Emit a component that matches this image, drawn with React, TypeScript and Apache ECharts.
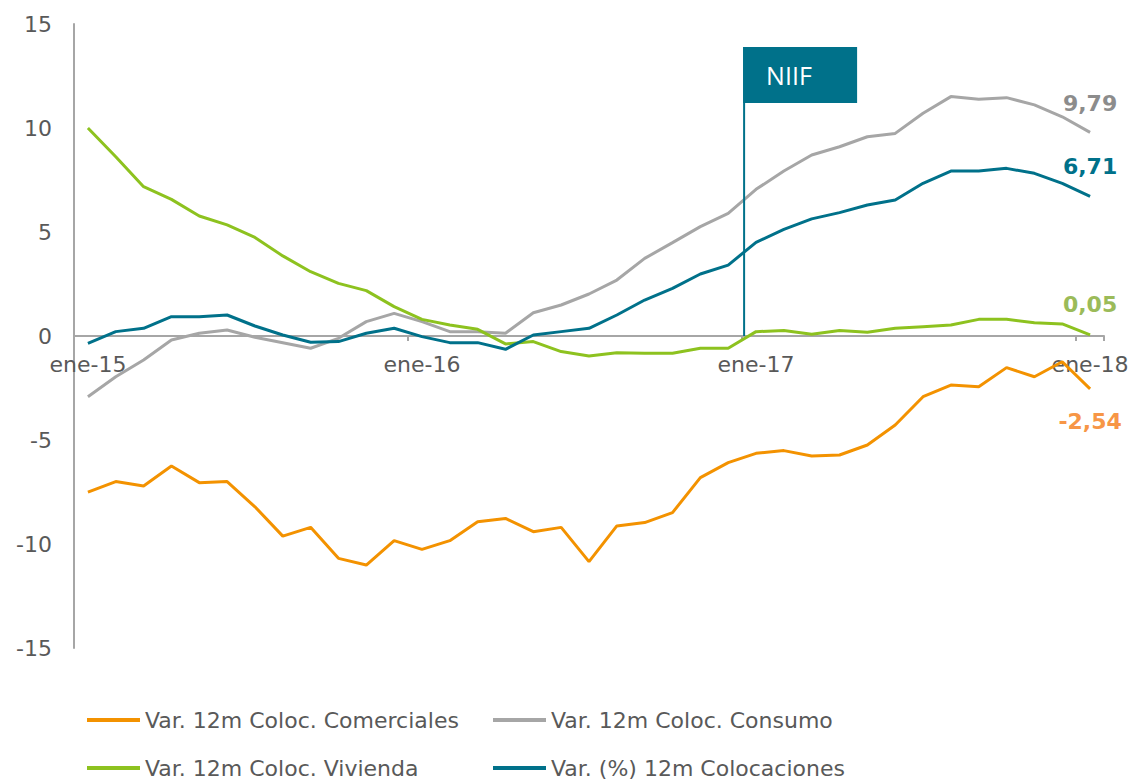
import React, { useEffect, useRef } from "react";
import * as echarts from "echarts";

const months = [
  "ene-15", "feb-15", "mar-15", "abr-15", "may-15", "jun-15", "jul-15", "ago-15", "sep-15", "oct-15", "nov-15", "dic-15",
  "ene-16", "feb-16", "mar-16", "abr-16", "may-16", "jun-16", "jul-16", "ago-16", "sep-16", "oct-16", "nov-16", "dic-16",
  "ene-17", "feb-17", "mar-17", "abr-17", "may-17", "jun-17", "jul-17", "ago-17", "sep-17", "oct-17", "nov-17", "dic-17",
  "ene-18",
];

const comerciales = [
  -7.51, -7.0, -7.21, -6.25, -7.05, -7.0, -8.21, -9.62, -9.2, -10.69, -11.01, -9.84,
  -10.26, -9.84, -8.93, -8.77, -9.41, -9.2, -10.85, -9.13, -8.97, -8.49, -6.81, -6.09,
  -5.64, -5.51, -5.77, -5.72, -5.24, -4.28, -2.92, -2.36, -2.44, -1.52, -1.96, -1.24,
  -2.54,
];

const consumo = [
  -2.92, -1.96, -1.15, -0.19, 0.13, 0.29, -0.06, -0.32, -0.59, -0.11, 0.69, 1.09,
  0.69, 0.21, 0.21, 0.13, 1.12, 1.49, 2.02, 2.69, 3.73, 4.49, 5.26, 5.9,
  7.05, 7.93, 8.7, 9.1, 9.58, 9.74, 10.71, 11.51, 11.38, 11.46, 11.11, 10.54,
  9.79,
];

const vivienda = [
  10.0, 8.62, 7.18, 6.57, 5.77, 5.34, 4.74, 3.85, 3.09, 2.53, 2.18, 1.41,
  0.8, 0.53, 0.32, -0.38, -0.27, -0.75, -0.96, -0.8, -0.83, -0.83, -0.59, -0.59,
  0.21, 0.26, 0.08, 0.26, 0.18, 0.37, 0.45, 0.53, 0.8, 0.8, 0.64, 0.58,
  0.05,
];

const colocaciones = [
  -0.35, 0.21, 0.37, 0.93, 0.93, 1.01, 0.48, 0.05, -0.3, -0.27, 0.13, 0.37,
  -0.03, -0.32, -0.32, -0.64, 0.05, 0.21, 0.37, 1.01, 1.73, 2.29, 2.98, 3.41,
  4.5, 5.13, 5.63, 5.93, 6.3, 6.54, 7.34, 7.93, 7.93, 8.06, 7.82, 7.34,
  6.71,
];

const seriesNames = [
  "Var. 12m Coloc. Comerciales",
  "Var. 12m Coloc. Consumo",
  "Var. 12m Coloc. Vivienda",
  "Var. (%) 12m Colocaciones",
];

const lineColors = ["#F39200", "#A6A6A6", "#8DC21F", "#00718A"];
const labelColors = ["#F79646", "#8C8C8C", "#9BBB59", "#00718A"];
const labelOffsetY = [33, -29, -30, -30];
const flagText = "NIIF";
const flagAfterIndex = 23;

const FONT = "'DejaVu Sans', Verdana, sans-serif";

export default function App() {
  const ref = useRef<HTMLDivElement>(null);

  useEffect(() => {
    document.body.style.margin = "0";
    if (!ref.current) return;
    const chart = echarts.init(ref.current, null, { renderer: "svg" });
    const allValues = [comerciales, consumo, vivienda, colocaciones];

    const legendPos = [
      { left: 87, top: 708 },
      { left: 493, top: 708 },
      { left: 87, top: 756 },
      { left: 493, top: 756 },
    ];

    chart.setOption({
      animation: false,
      backgroundColor: "#ffffff",
      grid: { left: 74, right: 29, top: 24, bottom: 136, containLabel: false },
      legend: seriesNames.map((name, i) => ({
        data: [{ name, itemStyle: { color: lineColors[i] } }],
        left: legendPos[i].left,
        top: legendPos[i].top,
        padding: 0,
        icon: "rect",
        itemWidth: 53,
        itemHeight: 4,
        selectedMode: false,
        textStyle: { color: "#595959", fontSize: 22, fontFamily: FONT, lineHeight: 24 },
      })),
      xAxis: {
        type: "category",
        data: months,
        boundaryGap: true,
        axisLine: { onZero: false, lineStyle: { color: "#A6A6A6", width: 2 } },
        axisTick: { show: true, interval: 11, length: 5, lineStyle: { color: "#A6A6A6", width: 2 } },
        axisLabel: {
          interval: 11,
          color: "#595959",
          fontSize: 22,
          fontFamily: FONT,
          margin: 17,
        },
        splitLine: { show: false },
      },
      yAxis: {
        type: "value",
        min: -15,
        max: 15,
        interval: 5,
        axisLine: { show: true, onZero: false, lineStyle: { color: "#A6A6A6", width: 2 } },
        axisTick: { show: false },
        axisLabel: { color: "#595959", fontSize: 22, fontFamily: FONT, margin: 22 },
        splitLine: { show: false },
      },
      series: seriesNames.map((name, i) => ({
        name,
        type: "line",
        data: allValues[i],
        showSymbol: false,
        symbol: "none",
        lineStyle: { color: lineColors[i], width: 3 },
        itemStyle: { color: lineColors[i] },
        endLabel: {
          show: true,
          distance: 0,
          offset: [0, labelOffsetY[i]],
          align: "center",
          verticalAlign: "middle",
          color: labelColors[i],
          fontWeight: "bold",
          fontSize: 22,
          fontFamily: FONT,
          formatter: (p: any) => Number(p.value).toFixed(2).replace(".", ","),
        },
        z: 2 + i,
      })),
    });

    const xa = chart.convertToPixel({ xAxisIndex: 0 }, months[flagAfterIndex]) as number;
    const xb = chart.convertToPixel({ xAxisIndex: 0 }, months[flagAfterIndex + 1]) as number;
    const y0 = chart.convertToPixel({ yAxisIndex: 0 }, 0) as number;
    const yBottom = chart.convertToPixel({ yAxisIndex: 0 }, -15) as number;
    const fx = (xa + xb) / 2 + 2;
    const top = 47;

    chart.setOption({
      xAxis: { offset: -(yBottom - y0) },
      graphic: [
        {
          type: "line",
          shape: { x1: fx, y1: top, x2: fx, y2: y0 },
          style: { stroke: "#00718A", lineWidth: 2 },
          z: 10,
        },
        {
          type: "rect",
          shape: { x: fx - 1, y: top, width: 114, height: 56 },
          style: { fill: "#00718A" },
          z: 10,
        },
        {
          type: "text",
          x: fx + 22,
          y: top + 28,
          style: {
            text: flagText,
            fill: "#ffffff",
            font: "25px 'Open Sans', 'Noto Sans', sans-serif",
            verticalAlign: "middle",
            align: "left",
          },
          z: 11,
        },
      ],
    });

    return () => chart.dispose();
  }, []);

  return <div ref={ref} style={{ width: 1133, height: 784 }} />;
}
